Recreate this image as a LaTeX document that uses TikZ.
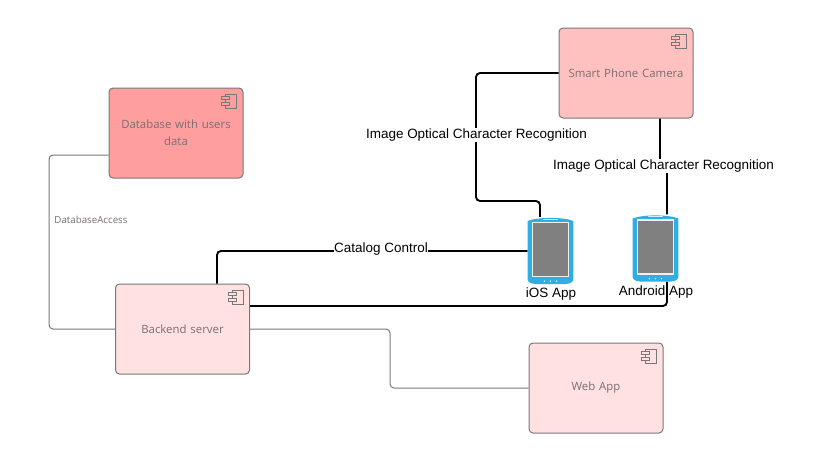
\documentclass[tikz,border=0pt]{standalone}
\usepackage{fontspec}
\setmainfont{Open Sans}
\newfontfamily\labelfont{Liberation Sans}
\usetikzlibrary{calc}
\definecolor{boxtext}{HTML}{7A6F70}
\definecolor{boxedge}{HTML}{787878}
\definecolor{rosea}{HTML}{FFC0C0}
\definecolor{roseb}{HTML}{FF9E9E}
\definecolor{rosec}{HTML}{FFE1E1}
\definecolor{phoneblue}{HTML}{2FAEE4}
\definecolor{screengray}{HTML}{808080}
\tikzset{
  x=0.75pt,y=-0.75pt,
  compbox/.style={draw=boxedge,line width=0.75pt,rounded corners=3pt,minimum width=100.5pt,minimum height=67.5pt,inner sep=0pt,align=center,text=boxtext,font=\fontsize{8.55}{12.75}\selectfont,text width=96pt},
  thickline/.style={black,line width=1.4pt,rounded corners=3pt},
  thinline/.style={draw=boxedge,line width=0.75pt,rounded corners=3pt},
  linklabel/.style={fill=white,inner sep=0.5pt,text=black,font=\labelfont\fontsize{10.1}{12}\selectfont},
  phonebody/.style={draw=none,minimum width=33.75pt,minimum height=50pt,inner sep=0pt},
  phonescreen/.style={fill=screengray,draw=white!88!gray,line width=0.8pt,minimum width=27pt,minimum height=40.5pt,inner sep=0pt},
  phonelabel/.style={text=black,inner sep=0pt,font=\labelfont\fontsize{10.1}{12}\selectfont},
}
\newcommand{\compicon}[1]{%
  \begin{scope}[shift={(#1.north east)},draw=boxedge,line width=0.6pt]
    \draw (-18,6.5) -- (-7,6.5) -- (-7,21) -- (-18,21) -- (-18,18);
    \draw (-18,15) -- (-18,12);
    \draw (-18,9) -- (-18,6.5);
    \draw (-22,9) rectangle (-14,12);
    \draw (-22,15) rectangle (-14,18);
  \end{scope}}
\newcommand{\phonedraw}[1]{%
  \fill[phoneblue] ($(#1.north west)+(0,4)$) .. controls ($(#1.north west)+(10,0)$) and ($(#1.north east)+(-10,0)$) .. ($(#1.north east)+(0,4)$)
    -- ($(#1.south east)+(0,-4)$) .. controls ($(#1.south east)+(-1,-1)$) and ($(#1.south east)+(-5,0)$) .. ($(#1.south east)+(-8,0)$)
    -- ($(#1.south west)+(8,0)$) .. controls ($(#1.south west)+(5,0)$) and ($(#1.south west)+(1,-1)$) .. ($(#1.south west)+(0,-4)$) -- cycle;
  \node[phonescreen] at ($(#1.center)+(0,-1)$) {};
  \draw[white!80!phoneblue,line width=0.7pt,line cap=round] ($(#1.north)+(-7,2.5)$) -- ($(#1.north)+(7,2.5)$);
  \foreach \dx in {-6,0,6} \fill[white] ($(#1.south)+(\dx,-3)$) circle (0.6pt);}
\begin{document}
\begin{tikzpicture}
\useasboundingbox (0,0) rectangle (833,461);
\fill[white] (0,0) rectangle (833,461);
% component boxes
\node[compbox,fill=rosea] (camera) at (626,73) {Smart Phone Camera};
\node[compbox,fill=roseb] (db) at (176,133) {Database with users\\data};
\node[compbox,fill=rosec] (backend) at (182.5,329) {Backend server};
\node[compbox,fill=rosec] (web) at (596,388) {Web App};
% phones
\node[phonebody] (ios) at (550.5,250.5) {};
\node[phonebody] (android) at (655.5,248) {};
\node[phonelabel] (ioslabel) at (551,294) {iOS App};
% connectors
\draw[thinline] (db.west|-0,155) -- (49,155) -- (49,329) -- (backend.west);
\draw[thinline] (backend.east) -- (390,329) -- (390,388) -- (web.west);
\coordinate (iosT) at (ios.north-|540,0);
\draw[thickline] (camera.west) -- (476,73) -- (476,201) -- (540,201) -- (iosT);
\draw[thickline] (camera.south-|660,0) -- (660,165) -- (667,165) -- (android.north-|667,0);
\draw[thickline] (backend.north-|217,0) -- (217,251) -- (ios.west|-0,251);
\draw[thickline] (android.south-|667,0) -- (667,306) -- (backend.east|-0,306);
% details
\phonedraw{ios}
\phonedraw{android}
\compicon{camera}
\compicon{db}
\compicon{backend}
\compicon{web}
% labels
\node[linklabel] (l1) at (476.5,135) {Image Optical Character Recognition};
\node[linklabel] (l2) at (663.5,166) {Image Optical Character Recognition};
\node[linklabel] (l3) at (381,249) {Catalog Control};
\node[text=boxtext,fill=white,inner sep=1pt,font=\fontsize{7.3}{9}\selectfont] (l4) at (91,219.5) {DatabaseAccess};
\node[phonelabel] (androidlabel) at (656,292.5) {Android App};
\end{tikzpicture}
\end{document}
